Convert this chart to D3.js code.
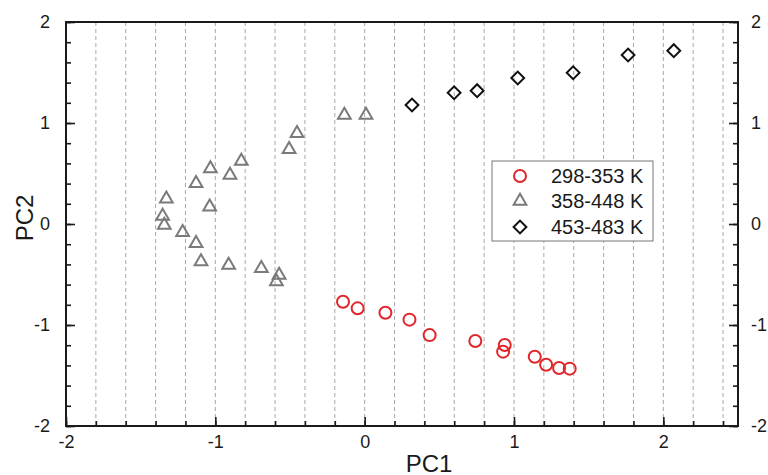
<!DOCTYPE html>
<html>
<head>
<meta charset="utf-8">
<script src="https://cdn.jsdelivr.net/npm/d3@7"></script>
<style>
  html, body { margin: 0; padding: 0; background: #fff; }
  svg { display: block; }
  text { font-family: "Liberation Sans", Arial, sans-serif; fill: #1a1a1a; }
</style>
</head>
<body>
<svg id="chart" width="768" height="475"></svg>
<script>
// ---- data ----
const seriesNames = ["298-353 K", "358-448 K", "453-483 K"];
const redPC1 = [-0.145, -0.047, 0.139, 0.300, 0.435, 0.741, 0.938, 0.927, 1.139, 1.215, 1.302, 1.373];
const redPC2 = [-0.770, -0.835, -0.878, -0.947, -1.100, -1.158, -1.198, -1.264, -1.314, -1.393, -1.426, -1.432];
const grayPC1 = [-1.328, -1.353, -1.342, -1.219, -1.129, -1.096, -0.911, -0.692, -0.573, -0.591,
                 -1.129, -1.033, -1.038, -0.902, -0.826, -0.506, -0.453, -0.136, 0.009];
const grayPC2 = [0.248, 0.079, -0.010, -0.082, -0.191, -0.373, -0.406, -0.439, -0.505, -0.571,
                 0.403, 0.548, 0.171, 0.485, 0.624, 0.739, 0.898, 1.079, 1.079];
const blackPC1 = [0.317, 0.599, 0.753, 1.025, 1.396, 1.764, 2.070];
const blackPC2 = [1.178, 1.300, 1.320, 1.446, 1.498, 1.673, 1.716];
const xMajorTicks = [-2, -1, 0, 1, 2];
const yMajorTicks = [-2, -1, 0, 1, 2];
const xTickLabels = ["-2", "-1", "0", "1", "2"];
const yTickLabels = ["-2", "-1", "0", "1", "2"];
const xTitle = "PC1";
const yTitle = "PC2";

// ---- layout ----
const svg = d3.select("#chart");
const L = 66, R = 738, T = 22, B = 426;
const x = d3.scaleLinear().domain([-2, 2.5]).range([L, R]);
const y = d3.scaleLinear().domain([-2, 2]).range([B, T]);

const xMinor = d3.range(-20, 26, 2).map(v => v / 10);
const yMinor = d3.range(-20, 21, 2).map(v => v / 10);

// vertical dashed grid
svg.append("g").selectAll("line")
  .data(xMinor.filter(v => v > -2 && v < 2.5))
  .join("line")
  .attr("x1", d => x(d)).attr("x2", d => x(d))
  .attr("y1", T).attr("y2", B)
  .attr("stroke", "#a8a8a8").attr("stroke-width", 1)
  .attr("stroke-dasharray", "4,3");

// axes
function styleAxis(g) {
  g.select(".domain").remove();
  g.selectAll(".tick line").attr("stroke", "#1a1a1a").attr("stroke-width", 1.6);
  g.selectAll(".tick text").style("font-size", "18px").attr("fill", "#1a1a1a");
}
// bottom
svg.append("g").attr("transform", `translate(0,${B})`)
  .call(d3.axisBottom(x).tickValues(xMinor).tickSize(-5).tickFormat(""))
  .call(styleAxis);
svg.append("g").attr("transform", `translate(0,${B})`)
  .call(d3.axisBottom(x).tickValues(xMajorTicks).tickSize(-9).tickPadding(22)
    .tickFormat((d, i) => xTickLabels[i]))
  .call(styleAxis)
  .call(g => g.selectAll(".tick text").attr("dy", "0"));
// left
svg.append("g").attr("transform", `translate(${L},0)`)
  .call(d3.axisLeft(y).tickValues(yMinor).tickSize(-5).tickFormat(""))
  .call(styleAxis);
svg.append("g").attr("transform", `translate(${L},0)`)
  .call(d3.axisLeft(y).tickValues(yMajorTicks).tickSize(-9).tickPadding(16)
    .tickFormat((d, i) => yTickLabels[i]))
  .call(styleAxis);
// right
svg.append("g").attr("transform", `translate(${R},0)`)
  .call(d3.axisRight(y).tickValues(yMinor).tickSize(-5).tickFormat(""))
  .call(styleAxis);
svg.append("g").attr("transform", `translate(${R},0)`)
  .call(d3.axisRight(y).tickValues(yMajorTicks).tickSize(-9).tickPadding(13)
    .tickFormat((d, i) => yTickLabels[i]))
  .call(styleAxis);

// frame
svg.append("rect").attr("x", L).attr("y", T).attr("width", R - L).attr("height", B - T)
  .attr("fill", "none").attr("stroke", "#1a1a1a").attr("stroke-width", 2);

// titles
svg.append("text").attr("x", 429).attr("y", 472).attr("text-anchor", "middle")
  .style("font-size", "24px").text(xTitle);
svg.append("text").attr("transform", "translate(33,218) rotate(-90)")
  .attr("text-anchor", "middle").style("font-size", "24px").text(yTitle);

// markers
const colors = ["#e0262b", "#7a7a7a", "#111111"];
const tri = d3.symbol().type(d3.symbolTriangle).size(70);
const dia = d3.symbol().type(d3.symbolSquare).size(82);

svg.append("g").selectAll("circle")
  .data(redPC1.map((v, i) => [v, redPC2[i]]))
  .join("circle")
  .attr("cx", d => x(d[0])).attr("cy", d => y(d[1])).attr("r", 6)
  .attr("fill", "none").attr("stroke", colors[0]).attr("stroke-width", 2);

svg.append("g").selectAll("path")
  .data(grayPC1.map((v, i) => [v, grayPC2[i]]))
  .join("path")
  .attr("d", tri)
  .attr("transform", d => `translate(${x(d[0])},${y(d[1])})`)
  .attr("fill", "none").attr("stroke", colors[1]).attr("stroke-width", 2);

svg.append("g").selectAll("path")
  .data(blackPC1.map((v, i) => [v, blackPC2[i]]))
  .join("path")
  .attr("d", dia)
  .attr("transform", d => `translate(${x(d[0])},${y(d[1])}) rotate(45)`)
  .attr("fill", "none").attr("stroke", colors[2]).attr("stroke-width", 2);

// legend
const lg = svg.append("g");
lg.append("rect").attr("x", 492).attr("y", 161).attr("width", 161).attr("height", 80)
  .attr("fill", "#fff").attr("stroke", "#777").attr("stroke-width", 1);
const rowY = [176, 201, 227];
lg.append("circle").attr("cx", 520).attr("cy", rowY[0]).attr("r", 6)
  .attr("fill", "none").attr("stroke", colors[0]).attr("stroke-width", 2);
lg.append("path").attr("d", tri).attr("transform", `translate(520,${rowY[1]})`)
  .attr("fill", "none").attr("stroke", colors[1]).attr("stroke-width", 2);
lg.append("path").attr("d", dia).attr("transform", `translate(520,${rowY[2]}) rotate(45)`)
  .attr("fill", "none").attr("stroke", colors[2]).attr("stroke-width", 2);
lg.selectAll("text.lab").data(seriesNames).join("text")
  .attr("class", "lab")
  .attr("x", 551).attr("y", (d, i) => rowY[i]).attr("dy", "0.36em")
  .style("font-size", "20px").text(d => d);
</script>
</body>
</html>
